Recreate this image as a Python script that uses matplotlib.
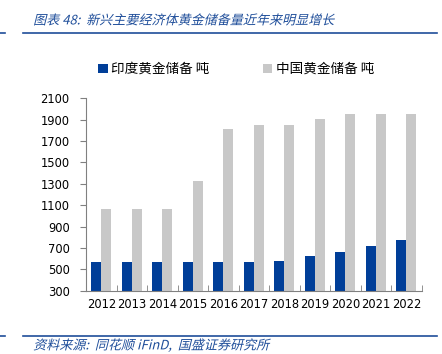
import matplotlib

matplotlib.use("Agg")
import matplotlib.pyplot as plt
from matplotlib.lines import Line2D
from matplotlib.patheffects import AbstractPathEffect
from matplotlib.transforms import Affine2D

years = ["2012", "2013", "2014", "2015", "2016", "2017", "2018", "2019", "2020", "2021", "2022"]
india = [572, 572, 572, 572, 572, 572, 578, 625, 662, 719, 775]
china = [1062, 1062, 1062, 1331, 1812, 1853, 1853, 1909, 1956, 1956, 1956]
yticks = [300, 500, 700, 900, 1100, 1300, 1500, 1700, 1900, 2100]

BLUE = "#003e98"
GREY = "#c8c8c8"
HEAD = "#1f4e9a"
CJK = ["Noto Sans CJK SC", "DejaVu Sans"]


class Oblique(AbstractPathEffect):
    """fake italic: shear glyphs around the text anchor"""

    def draw_path(self, renderer, gc, tpath, affine, rgbFace=None):
        x0, y0 = affine.transform((0, 0))
        sk = Affine2D().translate(-x0, -y0).skew_deg(14, 0).translate(x0, y0)
        renderer.draw_path(gc, tpath, affine + sk, rgbFace)


fig = plt.figure(figsize=(4.42, 3.54), dpi=100)
ax = fig.add_axes([0.195, 0.179, 0.759, 0.543])

x = range(len(years))
w = 0.327
ax.bar([i - w / 2 for i in x], india, width=w, bottom=0, color=BLUE, label="印度黄金储备 吨", zorder=2)
ax.bar([i + w / 2 for i in x], china, width=w, bottom=0, color=GREY, label="中国黄金储备 吨", zorder=2)

ax.set_ylim(300, 2100)
ax.set_xlim(-0.5, len(years) - 0.5)
ax.set_yticks(yticks)
ax.set_xticks(list(x))
ax.set_xticklabels(years)
ax.set_xticks([i + 0.5 for i in range(-1, len(years))], minor=True)
ax.tick_params(axis="y", length=4, color="#808080", labelsize=8.3, pad=8)
ax.tick_params(axis="x", which="major", length=0, labelsize=8.3, pad=5)
ax.tick_params(axis="x", which="minor", length=4, direction="in", color="#808080")
for s in ["top", "right"]:
    ax.spines[s].set_visible(False)
for s in ["left", "bottom"]:
    ax.spines[s].set_color("#808080")
    ax.spines[s].set_linewidth(0.8)

fig.legend(loc="center", bbox_to_anchor=(0.534, 0.805), ncol=2, frameon=False,
           handlelength=0.7, handleheight=0.7, handletextpad=0.25, columnspacing=3.9,
           prop={"family": CJK, "size": 9.8})

# header / footer rules
for yy in (0.907, 0.0508):
    fig.add_artist(Line2D([0.052, 0.989], [yy, yy], transform=fig.transFigure, color=HEAD, lw=1.2))
    fig.add_artist(Line2D([0.0, 0.012], [yy, yy], transform=fig.transFigure, color=HEAD, lw=1.2))

fig.text(0.075, 0.941, "图表 48:  新兴主要经济体黄金储备量近年来明显增长", family=CJK, size=9.4,
         color=HEAD, va="center", path_effects=[Oblique()])
fig.text(0.075, 0.024, "资料来源:  同花顺 iFinD,  国盛证券研究所", family=CJK, size=9.4,
         color=HEAD, va="center", path_effects=[Oblique()])

fig.savefig("out.png", dpi=100)
